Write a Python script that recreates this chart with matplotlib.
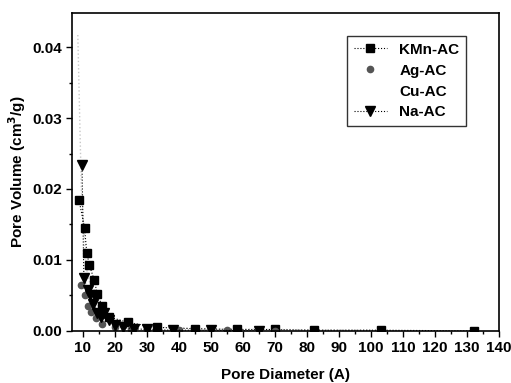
import numpy as np
import matplotlib.pyplot as plt
from matplotlib.ticker import MultipleLocator

plt.rcParams['font.family'] = ['Liberation Sans', 'DejaVu Sans']
plt.rcParams['font.weight'] = 'bold'

# Datos (diametro en A, volumen en cm3/g)
kmn_x = [8.8, 10.5, 11.2, 12.0, 13.5, 14.5, 16.0, 18.0, 24.0, 33.0, 45.0, 58.0, 70.0, 82.0, 103.0, 132.0]
kmn_y = [0.0184, 0.0145, 0.0110, 0.0093, 0.0072, 0.0052, 0.0035, 0.0020, 0.0012, 0.0005, 0.0003, 0.0002, 0.0002, 0.0001, 0.0001, 0.0000]

ag_x = [9.5, 10.5, 11.5, 12.5, 14.0, 16.0, 20.0, 25.0, 30.0, 40.0, 55.0, 70.0]
ag_y = [0.0065, 0.0050, 0.0035, 0.0027, 0.0018, 0.0010, 0.0006, 0.0003, 0.0002, 0.0001, 0.0001, 0.0000]

cu_x = [8.4, 9.5, 11.0, 13.0, 16.0, 20.0, 25.0, 35.0, 50.0, 70.0, 100.0]
cu_y = [0.0417, 0.0200, 0.0090, 0.0050, 0.0025, 0.0015, 0.0010, 0.0005, 0.0003, 0.0002, 0.0001]

na_x = [9.7, 10.3, 11.5, 12.2, 13.2, 14.5, 15.5, 16.5, 18.0, 20.0, 22.5, 26.0, 30.0, 38.0, 50.0, 65.0]
na_y = [0.0234, 0.0075, 0.0058, 0.0050, 0.0038, 0.0025, 0.0020, 0.0025, 0.0015, 0.0008, 0.0005, 0.0003, 0.0002, 0.0001, 0.0001, 0.0000]

fig = plt.figure(figsize=(5.11, 3.83), dpi=100)
ax = fig.add_axes([0.141, 0.136, 0.836, 0.83])

ax.plot(cu_x, cu_y, ':', color='#c8c8c8', lw=1, label='Cu-AC')
ax.plot(kmn_x, kmn_y, 's:', color='black', ms=5.5, lw=0.8, label='KMn-AC')
ax.plot(ag_x, ag_y, 'o', color='#555555', ms=4.5, label='Ag-AC')
ax.plot(na_x, na_y, 'v:', color='black', ms=6.5, lw=0.8, label='Na-AC')

ax.set_xlim(6.6, 140)
ax.set_ylim(0, 0.0448)
ax.xaxis.set_major_locator(MultipleLocator(10))
ax.xaxis.set_minor_locator(MultipleLocator(5))
ax.yaxis.set_major_locator(MultipleLocator(0.01))
ax.yaxis.set_minor_locator(MultipleLocator(0.005))
ax.yaxis.set_major_formatter(plt.FormatStrFormatter('%.2f'))
ax.tick_params(which='major', direction='out', length=4, width=1, labelsize=11)
ax.tick_params(which='minor', direction='out', length=2.5, width=1)
for s in ax.spines.values():
    s.set_linewidth(1.2)

ax.set_xlabel('Pore Diameter (A)', fontsize=11, fontweight='bold', labelpad=9)
ax.set_ylabel('Pore Volume (cm$^3$/g)', fontsize=11, fontweight='bold', labelpad=3)

h, l = ax.get_legend_handles_labels()
orden = [1, 2, 0, 3]
leg = ax.legend([h[i] for i in orden], [l[i] for i in orden], loc='upper right',
                bbox_to_anchor=(0.923, 0.928), borderaxespad=0, fancybox=False,
                edgecolor='black', fontsize=11, handlelength=2.2,
                borderpad=0.45, labelspacing=0.45)
leg.get_lines()[2].set_alpha(0)

fig.savefig('out.png', dpi=100)
